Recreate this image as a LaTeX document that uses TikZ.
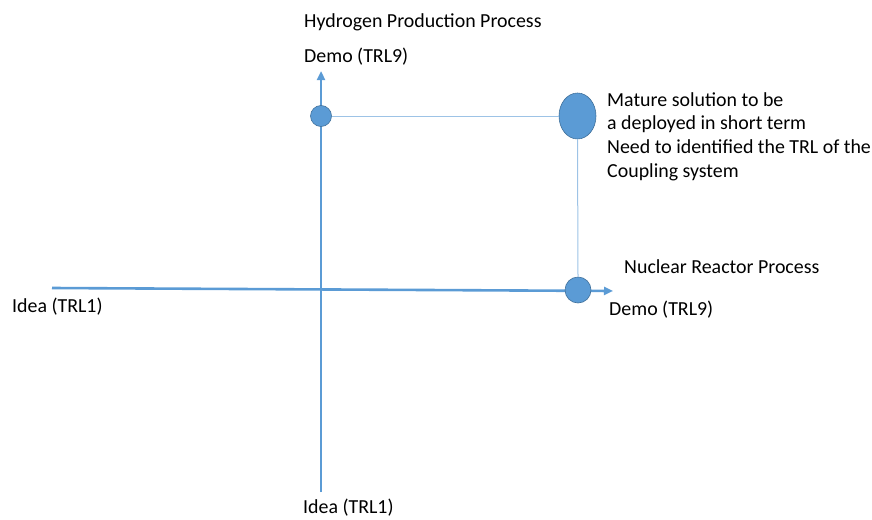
\documentclass[tikz,border=0pt]{standalone}
\usepackage{fontspec}
\setmainfont{Carlito}
\usetikzlibrary{arrows.meta,shapes.geometric}
\definecolor{axisblue}{HTML}{5B9BD5}
\definecolor{dotedge}{HTML}{41719C}
\definecolor{thinblue}{HTML}{9DC3E6}
\begin{document}
\begin{tikzpicture}[x=1pt,y=-1pt,
  lbl/.style={anchor=west,inner sep=0pt,font=\fontsize{19.9}{23.7}\selectfont,text=black},
  axisline/.style={draw=axisblue,line width=2.6pt,-{Triangle[length=9pt,width=8pt]}},
  dot/.style={circle,fill=axisblue,draw=dotedge,line width=0.6pt,inner sep=0pt},
  oval/.style={ellipse,fill=axisblue,draw=dotedge,line width=0.6pt,inner sep=0pt},
  thin/.style={draw=thinblue,line width=1pt}]
\useasboundingbox (0,0) rectangle (872,519);
% axes
\coordinate (hstart) at (52,288);
\coordinate (hend) at (613,291);
\coordinate (vstart) at (321,492);
\coordinate (vend) at (321,71);
\draw[axisline] (hstart) -- (hend);
\draw[axisline] (vstart) -- (vend);
% dots
\node[dot,minimum size=21pt] (hdot) at (321,116) {};
\node[oval,minimum width=37pt,minimum height=46pt] (mature) at (577.5,116) {};
\node[dot,minimum size=26pt] (ndot) at (578,290) {};
\draw[thin] (hdot.east) -- (mature.west);
\draw[thin] (mature.south) -- (ndot.north);
% labels
\node[lbl] (hpp) at (304,22) {Hydrogen Production Process};
\node[lbl] (demotop) at (304,57) {Demo (TRL9)};
\node[lbl,anchor=north west,align=left] (mtext) at (607,92) {Mature solution to be\\a deployed in short term\\Need to identified the TRL of the\\Coupling system};
\node[lbl] (nrp) at (624,267) {Nuclear Reactor Process};
\node[lbl] (demoright) at (609,310) {Demo (TRL9)};
\node[lbl] (idealeft) at (12,307) {Idea (TRL1)};
\node[lbl] (ideabottom) at (303,508) {Idea (TRL1)};
\end{tikzpicture}
\end{document}
